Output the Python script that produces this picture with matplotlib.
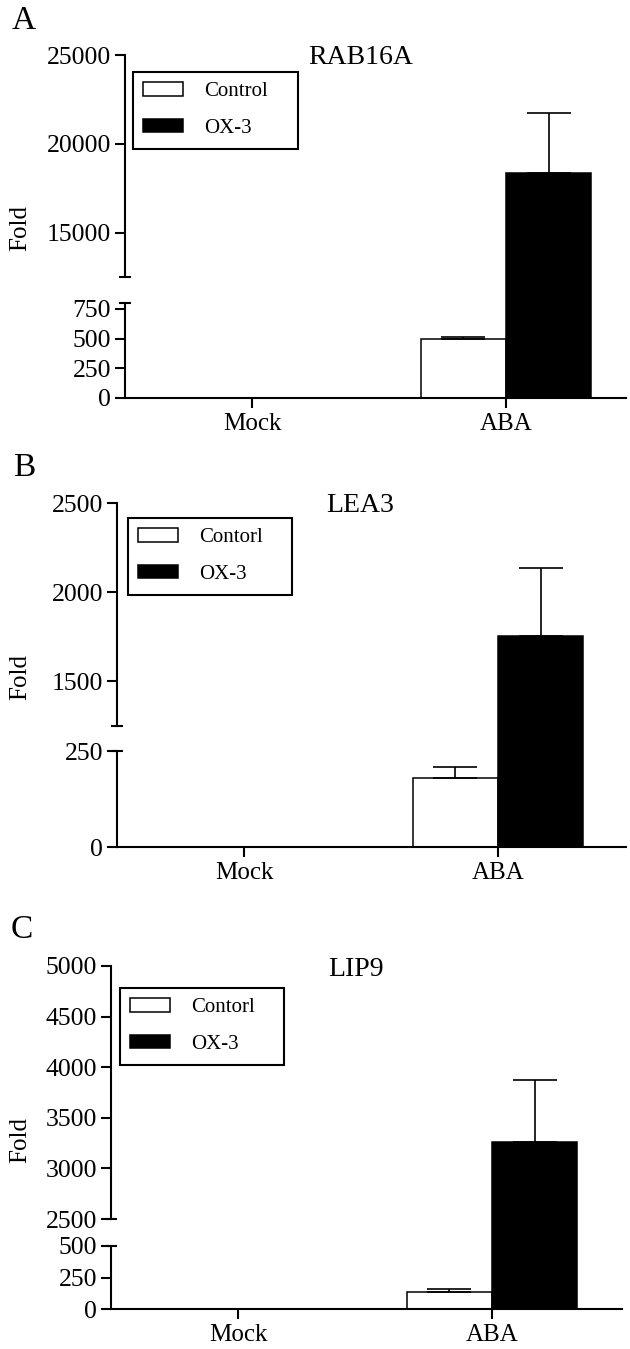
import numpy as np
import matplotlib
matplotlib.use('Agg')
from matplotlib import pyplot as plt

plt.rcParams['font.family'] = ['Liberation Serif', 'DejaVu Serif']

groups = ['Mock', 'ABA']

# RAB16A
rab_ctrl = np.array([1, 495])
rab_ctrl_err = np.array([0, 15])
rab_ox3 = np.array([1, 18370])
rab_ox3_err = np.array([0, 3370])
rab_labels = ['Control', 'OX-3']
rab_up_ticks = [15000, 20000, 25000]
rab_lo_ticks = [0, 250, 500, 750]

# LEA3
lea_ctrl = np.array([1, 180])
lea_ctrl_err = np.array([0, 28])
lea_ox3 = np.array([1, 1753])
lea_ox3_err = np.array([0, 382])
lea_labels = ['Contorl', 'OX-3']
lea_up_ticks = [1500, 2000, 2500]
lea_lo_ticks = [0, 250]

# LIP9
lip_ctrl = np.array([1, 135])
lip_ctrl_err = np.array([0, 24])
lip_ox3 = np.array([1, 3261])
lip_ox3_err = np.array([0, 612])
lip_labels = ['Contorl', 'OX-3']
lip_up_ticks = [2500, 3000, 3500, 4000, 4500, 5000]
lip_lo_ticks = [0, 250, 500]

W, H = 630, 1349
fig = plt.figure(figsize=(W / 100, H / 100), dpi=100)


def frac(l, t, r, b):
    return [l / W, 1 - b / H, (r - l) / W, (b - t) / H]


def panel(letter, title, ctrl, ctrl_err, ox3, ox3_err, labels,
          up_lim, up_ticks, lo_lim, lo_ticks,
          left, top, brk_top, brk_bot, bottom, right,
          title_xy, letter_xy, fold_y, leg):
    # upper axes reaches down to the lower one so the tall bar looks unbroken;
    # its spine stops at the break
    ax_up = fig.add_axes(frac(left, top, right, brk_bot))
    ax_lo = fig.add_axes(frac(left, brk_bot, right, bottom))
    scale = (up_lim[1] - up_lim[0]) / (brk_top - top)
    up_min = up_lim[0] - (brk_bot - brk_top) * scale
    x = np.arange(len(groups))
    w = 0.335
    xmax = -0.5 + (right - left) / 254
    m = ctrl_err > 0
    n = ox3_err > 0
    for ax in (ax_up, ax_lo):
        ax.patch.set_visible(False)
        ax.bar(x - w / 2, ctrl, w, color='white', edgecolor='black', lw=1.1, label=labels[0])
        ax.bar(x + w / 2, ox3, w, color='black', edgecolor='black', lw=1.1, label=labels[1])
        ax.errorbar(x[m] - w / 2, ctrl[m], yerr=[np.zeros(m.sum()), ctrl_err[m]], fmt='none',
                    ecolor='black', elinewidth=1.2, capsize=16, capthick=1.2)
        ax.errorbar(x[n] + w / 2, ox3[n], yerr=[np.zeros(n.sum()), ox3_err[n]], fmt='none',
                    ecolor='black', elinewidth=1.2, capsize=16, capthick=1.2)
        ax.set_xlim(-0.5, xmax)
        ax.spines['top'].set_visible(False)
        ax.spines['right'].set_visible(False)
        ax.spines['left'].set_linewidth(1.5)
        ax.tick_params(axis='y', direction='out', length=7, width=1.5, labelsize=18.5, pad=3)
    ax_up.spines['bottom'].set_visible(False)
    ax_up.set_xticks([])
    ax_up.set_ylim(up_min, up_lim[1])
    ax_up.spines['left'].set_bounds(up_lim[0], up_lim[1])
    ax_up.set_yticks(up_ticks)
    ax_lo.set_ylim(lo_lim)
    ax_lo.set_yticks(lo_ticks)
    ax_lo.set_xticks(x, groups)
    ax_lo.spines['bottom'].set_linewidth(1.5)
    ax_lo.tick_params(axis='x', direction='out', length=7, width=1.5, labelsize=18, pad=4)

    # break caps on the y axis
    ax_up.plot([0], [up_lim[0]], marker='_', ms=9, mew=1.5, color='black',
               transform=ax_up.get_yaxis_transform(), clip_on=False)
    ax_lo.plot([0], [lo_lim[1]], marker='_', ms=9, mew=1.5, color='black',
               transform=ax_lo.get_yaxis_transform(), clip_on=False)

    l, t, r, b = leg
    lg = ax_up.legend(loc='upper left', bbox_to_anchor=(l / W, 1 - b / H, (r - l) / W, (b - t) / H),
                      bbox_transform=fig.transFigure, mode='expand', borderaxespad=0,
                      fancybox=False, edgecolor='black', framealpha=1, fontsize=15,
                      handlelength=1.9, handleheight=0.6, handletextpad=1.0,
                      labelspacing=0.85, borderpad=0.5)
    lg.get_frame().set_linewidth(1.5)

    fig.text(title_xy[0] / W, 1 - title_xy[1] / H, title, ha='center', va='center', fontsize=20)
    fig.text(letter_xy[0] / W, 1 - letter_xy[1] / H, letter, ha='center', va='center', fontsize=24)
    fig.text(20 / W, 1 - fold_y / H, 'Fold', rotation=90, ha='center', va='center', fontsize=18)


panel('A', 'RAB16A', rab_ctrl, rab_ctrl_err, rab_ox3, rab_ox3_err, rab_labels,
      (12500, 25000), rab_up_ticks, (0, 800), rab_lo_ticks,
      125, 55, 277, 303, 398, 626,
      (361, 57), (24, 21), 228, (133, 72, 298, 151))

panel('B', 'LEA3', lea_ctrl, lea_ctrl_err, lea_ox3, lea_ox3_err, lea_labels,
      (1250, 2500), lea_up_ticks, (0, 250), lea_lo_ticks,
      117, 503, 726, 751, 847, 626,
      (360, 505), (24, 468), 677, (128, 518, 292, 597))

panel('C', 'LIP9', lip_ctrl, lip_ctrl_err, lip_ox3, lip_ox3_err, lip_labels,
      (2500, 5000), lip_up_ticks, (0, 500), lip_lo_ticks,
      111, 966, 1219, 1246, 1309, 622,
      (356, 969), (22, 930), 1140, (120, 988, 284, 1067))

fig.savefig('out.png', dpi=100)
